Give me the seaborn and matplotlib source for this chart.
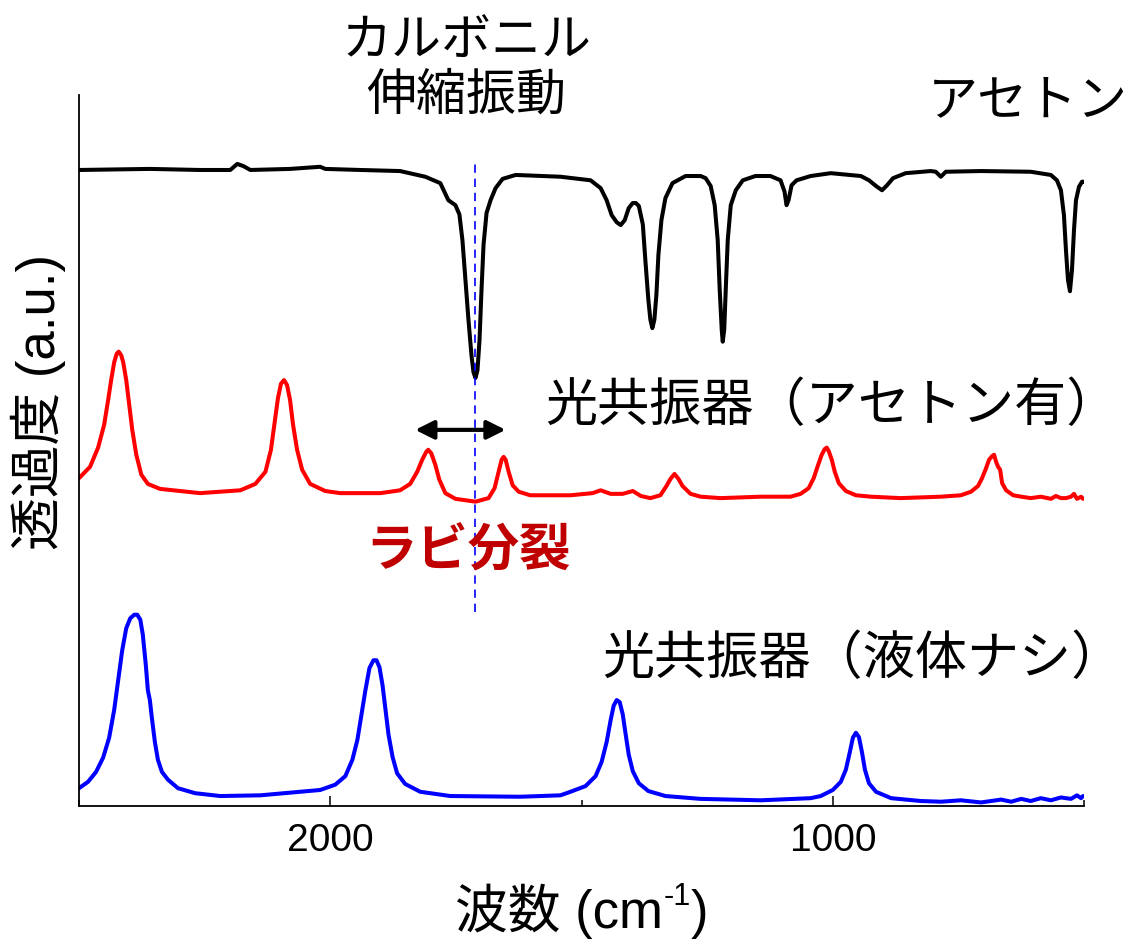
import numpy as np
import pandas as pd
import matplotlib
matplotlib.use("Agg")
import matplotlib.pyplot as plt
from matplotlib.ticker import FixedLocator, NullFormatter
import seaborn as sns

# --- data (wavenumber cm-1, transmittance a.u.) ---
acetone_wn = [2500, 2359, 2259, 2199, 2185, 2173, 2159, 2080, 2020, 2010, 1940, 1861,
              1811, 1781, 1765, 1751, 1743, 1737, 1731, 1725, 1719, 1715, 1711, 1707,
              1703, 1699, 1695, 1689, 1681, 1671, 1657, 1631, 1542, 1482, 1462, 1450,
              1440, 1430, 1422, 1414, 1406, 1398, 1392, 1386, 1378, 1373, 1367, 1363,
              1359, 1355, 1351, 1347, 1341, 1333, 1319, 1293, 1263, 1253, 1243, 1235,
              1229, 1225, 1221, 1219, 1216, 1213, 1209, 1203, 1193, 1179, 1154, 1124,
              1104, 1096, 1092, 1088, 1082, 1072, 1044, 1004, 944, 928, 914, 902, 892,
              880, 855, 805, 795, 785, 775, 705, 606, 566, 554, 546, 540, 536, 532, 528,
              524, 520, 516, 510, 504, 501]
acetone_t = [89.45, 89.6, 89.45, 89.45, 90.3, 90.0, 89.45, 89.6, 89.9, 89.6, 89.45, 89.3,
             88.5, 87.6, 85.2, 84.5, 83.2, 79.6, 74.0, 68.4, 63.4, 61.0, 60.2, 61.3,
             65.5, 72.6, 78.9, 83.4, 85.2, 86.9, 88.2, 88.75, 88.5, 88.0, 86.9, 85.2,
             83.1, 82.1, 81.7, 82.4, 84.1, 84.8, 84.8, 84.4, 81.8, 76.8, 71.2, 68.4,
             67.2, 68.4, 71.9, 77.5, 82.4, 85.5, 87.6, 88.6, 88.6, 88.3, 87.2, 84.5,
             79.6, 72.6, 67.0, 65.3, 67.0, 72.6, 79.6, 84.5, 86.6, 88.0, 88.6, 88.6,
             88.0, 86.4, 84.5, 85.2, 87.3, 88.0, 88.6, 89.0, 88.6, 88.0, 87.2, 86.6, 87.3,
             88.3, 89.0, 89.3, 89.2, 88.5, 89.2, 89.3, 89.2, 88.75, 88.0, 86.6, 83.1, 78.2, 74.0, 72.4,
             75.4, 81.0, 85.2, 87.1, 87.8, 87.8]

cavity_acetone_wn = [2500, 2478, 2462, 2450, 2442, 2436, 2430, 2425, 2421, 2416, 2412, 2406,
                     2400, 2394, 2386, 2376, 2363, 2339, 2259, 2179, 2149, 2129, 2118, 2110,
                     2104, 2098, 2092, 2086, 2080, 2074, 2066, 2056, 2040, 2010, 1980, 1900,
                     1861, 1841, 1827, 1817, 1809, 1805, 1799, 1791, 1783, 1771, 1751, 1711,
                     1685, 1673, 1665, 1659, 1655, 1651, 1645, 1637, 1625, 1602, 1522, 1478,
                     1462, 1442, 1418, 1398, 1382, 1363, 1343, 1331, 1323, 1315, 1307, 1299,
                     1283, 1263, 1223, 1143, 1084, 1064, 1048, 1038, 1030, 1022, 1016, 1012,
                     1008, 1002, 996, 988, 974, 954, 924, 865, 785, 745, 725, 711, 703, 695,
                     689, 683, 679, 675, 671, 667, 663, 655, 641, 625, 606, 586, 566, 556,
                     546, 536, 526, 520, 514, 506, 502]
cavity_acetone_t = [46.1, 47.7, 50.4, 53.6, 57.1, 59.9, 62.4, 63.6, 63.9, 63.4, 62.4, 59.9,
                    56.4, 52.9, 49.4, 46.6, 45.3, 44.6, 44.0, 44.4, 45.3, 47.0, 50.1, 54.3,
                    57.4, 59.4, 59.9, 59.2, 57.1, 53.6, 50.1, 47.3, 45.3, 44.3, 44.0, 44.0,
                    44.4, 45.3, 47.0, 48.7, 49.8, 50.1, 49.6, 48.0, 45.9, 44.0, 43.2, 42.8,
                    43.3, 44.7, 47.0, 48.7, 49.1, 48.7, 47.0, 45.1, 44.2, 43.7, 43.7, 44.0,
                    44.4, 43.9, 43.9, 44.3, 43.6, 43.3, 43.7, 45.0, 46.0, 46.7, 46.0, 45.0,
                    43.9, 43.5, 43.3, 43.5, 43.5, 43.9, 44.7, 46.1, 47.8, 49.4, 50.2, 50.4,
                    49.9, 48.7, 47.0, 45.4, 44.3, 43.7, 43.5, 43.3, 43.5, 43.7, 44.2, 45.0, 46.1, 47.5,
                    48.7, 49.2, 49.4, 48.4, 47.7, 47.3, 45.4, 44.4, 43.7, 43.5, 43.3, 43.5, 43.2, 43.6,
                    43.3, 43.3, 43.5, 43.9, 43.2, 43.5, 43.2]

cavity_empty_wn = [2500, 2482, 2466, 2452, 2440, 2430, 2422, 2414, 2406, 2398, 2390, 2384,
                   2378, 2373, 2367, 2363, 2359, 2355, 2349, 2343, 2335, 2323, 2303, 2269,
                   2219, 2139, 2060, 2020, 1990, 1970, 1956, 1946, 1938, 1930, 1922, 1914,
                   1908, 1902, 1896, 1890, 1884, 1876, 1867, 1851, 1821, 1761, 1622, 1542,
                   1522, 1492, 1472, 1460, 1450, 1442, 1436, 1430, 1424, 1418, 1412, 1406,
                   1398, 1386, 1367, 1333, 1263, 1143, 1044, 1024, 1000, 984, 974, 966, 960,
                   954, 948, 942, 936, 928, 914, 884, 825, 785, 745, 705, 665, 645, 625, 606,
                   586, 566, 546, 526, 514, 506, 502]
cavity_empty_t = [2.5, 3.4, 4.8, 6.8, 9.6, 13.5, 17.7, 21.9, 25.0, 26.4, 26.9, 26.9,
                  26.2, 24.1, 19.8, 16.3, 14.9, 12.4, 9.0, 6.5, 4.8, 3.7, 2.5, 1.8,
                  1.4, 1.5, 2.0, 2.25, 3.0, 4.2, 6.5, 9.3, 12.8, 16.3, 19.4, 20.5,
                  20.5, 19.5, 17.0, 13.5, 10.0, 6.9, 4.6, 3.1, 2.0, 1.4, 1.3, 1.5,
                  2.0, 2.8, 4.2, 6.2, 9.0, 12.1, 14.1, 14.9, 14.6, 12.9, 10.0, 7.2,
                  4.9, 3.2, 2.1, 1.4, 1.0, 0.8, 1.1, 1.4, 2.25, 3.4, 5.1, 7.6, 9.6,
                  10.3, 9.7, 7.6, 5.1, 3.2, 2.0, 1.1, 0.7, 0.6, 0.8, 0.5, 0.9, 0.6, 1.0, 0.7,
                  1.1, 0.8, 1.2, 1.0, 1.5, 1.1, 1.4]

carbonyl_wn = 1711
carbonyl_span = [27.3, 90.9]
rabi_arrow_wn = [1831, 1651]
rabi_arrow_t = 52.9

major_ticks = [2000, 1000]
minor_ticks = [2500, 1500, 500]

sns.set_style("white")
plt.rcParams["font.family"] = ["Liberation Sans", "Noto Sans CJK JP"]
plt.rcParams["text.color"] = "black"
plt.rcParams["xtick.color"] = "black"
plt.rcParams["axes.labelcolor"] = "black"

fig = plt.figure(figsize=(11.35, 9.44), dpi=100)
ax = fig.add_axes([0.0696, 0.1462, 0.8855, 0.7532])

curves = [
    (acetone_wn, acetone_t, "#000000"),
    (cavity_acetone_wn, cavity_acetone_t, "#FF0000"),
    (cavity_empty_wn, cavity_empty_t, "#0000FF"),
]
for wn, t, col in curves:
    df = pd.DataFrame({"wn": wn, "t": t})
    sns.lineplot(data=df, x="wn", y="t", ax=ax, color=col, lw=2.9,
                 sort=False, estimator=None)
for line in ax.get_lines():
    line.set_solid_joinstyle("round")

ax.plot([carbonyl_wn, carbonyl_wn], carbonyl_span, color="#0000FF", lw=1.2,
        ls=(0, (5, 3.5)))
ax.annotate("", xy=(rabi_arrow_wn[0], rabi_arrow_t), xytext=(rabi_arrow_wn[1], rabi_arrow_t),
            arrowprops=dict(arrowstyle="<|-|>", color="black", lw=3,
                            mutation_scale=28, shrinkA=0, shrinkB=0))

ax.set_xlim(2500, 500)
ax.set_ylim(0, 100)
ax.xaxis.set_major_locator(FixedLocator(major_ticks))
ax.xaxis.set_minor_locator(FixedLocator(minor_ticks))
ax.xaxis.set_minor_formatter(NullFormatter())
ax.set_yticks([])
ax.tick_params(axis="x", which="major", direction="in", length=7.5, width=1.1,
               labelsize=28, pad=12, bottom=True)
ax.tick_params(axis="x", which="minor", direction="in", length=4.3, width=1.1, bottom=True)
ax.set_xlabel("")
ax.set_ylabel("")
for side in ["top", "right"]:
    ax.spines[side].set_visible(False)
for side in ["left", "bottom"]:
    ax.spines[side].set_color("black")
    ax.spines[side].set_linewidth(1.3)

fig.text(0.411, 0.926, "カルボニル\n伸縮振動", ha="center", va="center",
         fontsize=36, linespacing=1.2)
fig.text(0.994, 0.892, "アセトン", ha="right", va="center", fontsize=36)
fig.text(0.480, 0.569, "光共振器（アセトン有）", ha="left", va="center", fontsize=37.5)
fig.text(0.531, 0.301, "光共振器（液体ナシ）", ha="left", va="center", fontsize=37.5)
fig.text(0.412, 0.415, "ラビ分裂", ha="center", va="center", fontsize=37,
         fontweight="bold", color="#C00000")
fig.text(0.034, 0.574, "透過度 (a.u.)", ha="center", va="center", rotation=90,
         fontsize=38)

# x label with superscript, built from pieces so the CJK fallback works
xl = fig.text(0.401, 0.017, "波数 (cm", ha="left", va="baseline", fontsize=38)
sup = ax.annotate("-1", xy=(1.0, 0.041), xycoords=(xl, "figure fraction"),
                  ha="left", va="baseline", fontsize=22)
ax.annotate(")", xy=(1.0, 0.017), xycoords=(sup, "figure fraction"),
            ha="left", va="baseline", fontsize=38)

fig.savefig("out.png", dpi=100)
